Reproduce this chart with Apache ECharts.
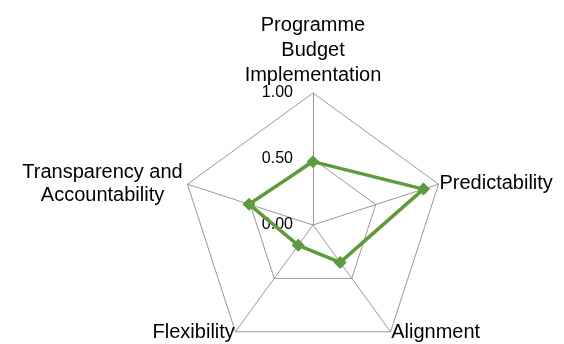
<!DOCTYPE html>
<html>
<head>
	<meta charset="utf-8">
	<title>Radar</title>
	<style type="text/css">
		body{
			margin: 0px;
			background: #fff;
		}
		.chart{
			width: 564px;
			height: 344px;
		}
	</style>
	<script type="text/javascript" src="https://cdn.jsdelivr.net/npm/echarts@6/dist/echarts.min.js"></script>
</head>
<body>
	<div id="chart" class="chart"></div>
	<script type="text/javascript">
		// listed counter-clockwise from the top, as the radar draws them
		var indicators = ['Programme\nBudget\nImplementation', 'Transparency and\nAccountability', 'Flexibility', 'Alignment', 'Predictability'];
		var scores = [0.48, 0.51, 0.19, 0.35, 0.88];
		var tickLabels = ['0.00', '0.50', '1.00'];

		var chart = echarts.init(document.getElementById('chart'));
		chart.setOption({
			backgroundColor: '#fff',
			animation: false,
			radar: {
				center: [313, 225],
				radius: 132,
				startAngle: 90,
				shape: 'polygon',
				splitNumber: 2,
				nameGap: 1,
				axisName: {
					color: '#000',
					fontFamily: 'Liberation Sans',
					fontSize: 20,
					lineHeight: 25,
					formatter: function(name){
						var lines = name.split('\n');
						// left label: right-placed block with centred lines
						if(name.indexOf('Transparency') === 0){
							return lines.map(function(s){ return '{c|' + s + '}'; }).join('\n');
						}
						// top label: uneven line boxes pull the block down a bit
						if(lines.length === 3){
							return '{t1|' + lines[0] + '}\n{t2|' + lines[1] + '}\n{t1|' + lines[2] + '}';
						}
						return name;
					},
					rich: {
						c: {
							width: 168,
							align: 'center',
							fontFamily: 'Liberation Sans',
							fontSize: 20,
							lineHeight: 23,
							color: '#000'
						},
						t1: {
							fontFamily: 'Liberation Sans',
							fontSize: 20,
							lineHeight: 9,
							color: '#000'
						},
						t2: {
							fontFamily: 'Liberation Sans',
							fontSize: 20,
							lineHeight: 41,
							color: '#000'
						}
					}
				},
				indicator: indicators.map(function(n, i){
					var ind = {name: n, min: 0, max: 1};
					if(i === 0){
						ind.axisLabel = {
							show: true,
							color: '#000',
							fontFamily: 'Liberation Sans',
							fontSize: 16,
							margin: 20,
							showMinLabel: true,
							formatter: function(v){
								return tickLabels[Math.round(v * 2)];
							}
						};
					}
					return ind;
				}),
				axisLine: {lineStyle: {color: '#999', width: 1}},
				splitLine: {lineStyle: {color: '#999', width: 1}},
				splitArea: {show: false},
				axisTick: {show: false}
			},
			series: [{
				type: 'radar',
				symbol: 'diamond',
				symbolSize: 13,
				lineStyle: {color: '#5E9B3C', width: 3.5},
				itemStyle: {color: '#5E9B3C'},
				data: [{value: scores}]
			}]
		});
	</script>
</body>
</html>
